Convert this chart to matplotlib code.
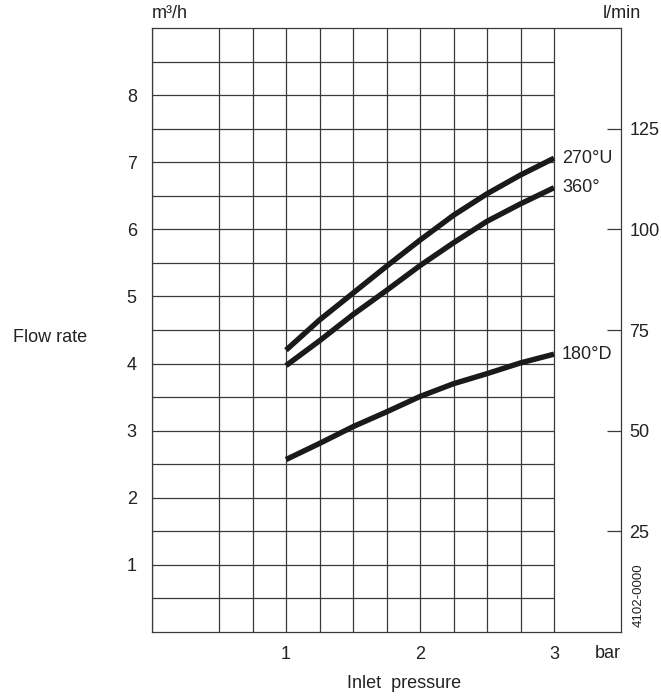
import numpy as np
import matplotlib.pyplot as plt

# (inlet pressure in bar, flow in m3/h)
pressure = [1.0, 1.25, 1.5, 1.75, 2.0, 2.25, 2.5, 2.75, 3.0]
flow_270U = [4.20, 4.65, 5.05, 5.45, 5.84, 6.21, 6.53, 6.81, 7.06]
flow_360 = [3.97, 4.34, 4.73, 5.09, 5.46, 5.80, 6.12, 6.38, 6.62]
flow_180D = [2.57, 2.81, 3.06, 3.28, 3.51, 3.70, 3.85, 4.01, 4.14]
curve_labels = ['270°U', '360°', '180°D']

left_ticks = [1, 2, 3, 4, 5, 6, 7, 8]
right_ticks = [25, 50, 75, 100, 125]
x_ticks = [1, 2, 3]

plt.rcParams['font.family'] = ['Liberation Sans', 'DejaVu Sans']
fs = 13
fig = plt.figure(figsize=(6.61, 7.0), dpi=100)
ax = fig.add_axes([0.2300, 0.0971, 0.7095, 0.8629])
ax.set_xlim(0, 3.5)
ax.set_ylim(0, 9)

# grid only covers 0..3 bar
gx = [0, 0.5, 0.75, 1, 1.25, 1.5, 1.75, 2, 2.25, 2.5, 2.75, 3]
gy = np.arange(0.5, 9, 0.5)
ax.vlines(gx, 0, 9, color='#3a3a3a', lw=0.9, zorder=1)
ax.hlines(gy, 0, 3, color='#3a3a3a', lw=0.9, zorder=1)

for ys, lab in zip([flow_270U, flow_360, flow_180D], curve_labels):
    ax.plot(pressure, ys, color='#1a1a1a', lw=3.9, solid_capstyle='butt', zorder=3)
    ax.text(3.06, ys[-1], lab, fontsize=fs, va='center', ha='left', color='#222')

for s in ax.spines.values():
    s.set_color('#3a3a3a')
    s.set_linewidth(0.9)

ax.set_yticks(left_ticks)
ax.set_xticks(x_ticks)
ax.tick_params(axis='both', length=0, labelsize=fs, colors='#222', pad=10)
ax.tick_params(axis='y', pad=11)

ax2 = ax.twinx()
ax2.set_ylim(0, 9 * 1000 / 60)
ax2.set_yticks(right_ticks)
ax2.tick_params(axis='y', direction='in', length=10, width=0.9, color='#3a3a3a',
                labelsize=fs, labelcolor='#222', pad=6)
for s in ax2.spines.values():
    s.set_visible(False)

fig.text(0.2300, 0.968, 'm³/h', fontsize=fs, ha='left', va='bottom', color='#222')
fig.text(0.970, 0.968, 'l/min', fontsize=fs, ha='right', va='bottom', color='#222')
fig.text(0.076, 0.518, 'Flow rate', fontsize=fs, ha='center', va='center', color='#222')
fig.text(0.919, 0.066, 'bar', fontsize=fs, ha='center', va='center', color='#222')
fig.text(0.612, 0.023, 'Inlet  pressure', fontsize=fs, ha='center', va='center', color='#222')
fig.text(0.967, 0.15, '4102-0000', fontsize=9.5, rotation=90, ha='center', va='center', color='#222')

fig.savefig('out.png', dpi=100)
